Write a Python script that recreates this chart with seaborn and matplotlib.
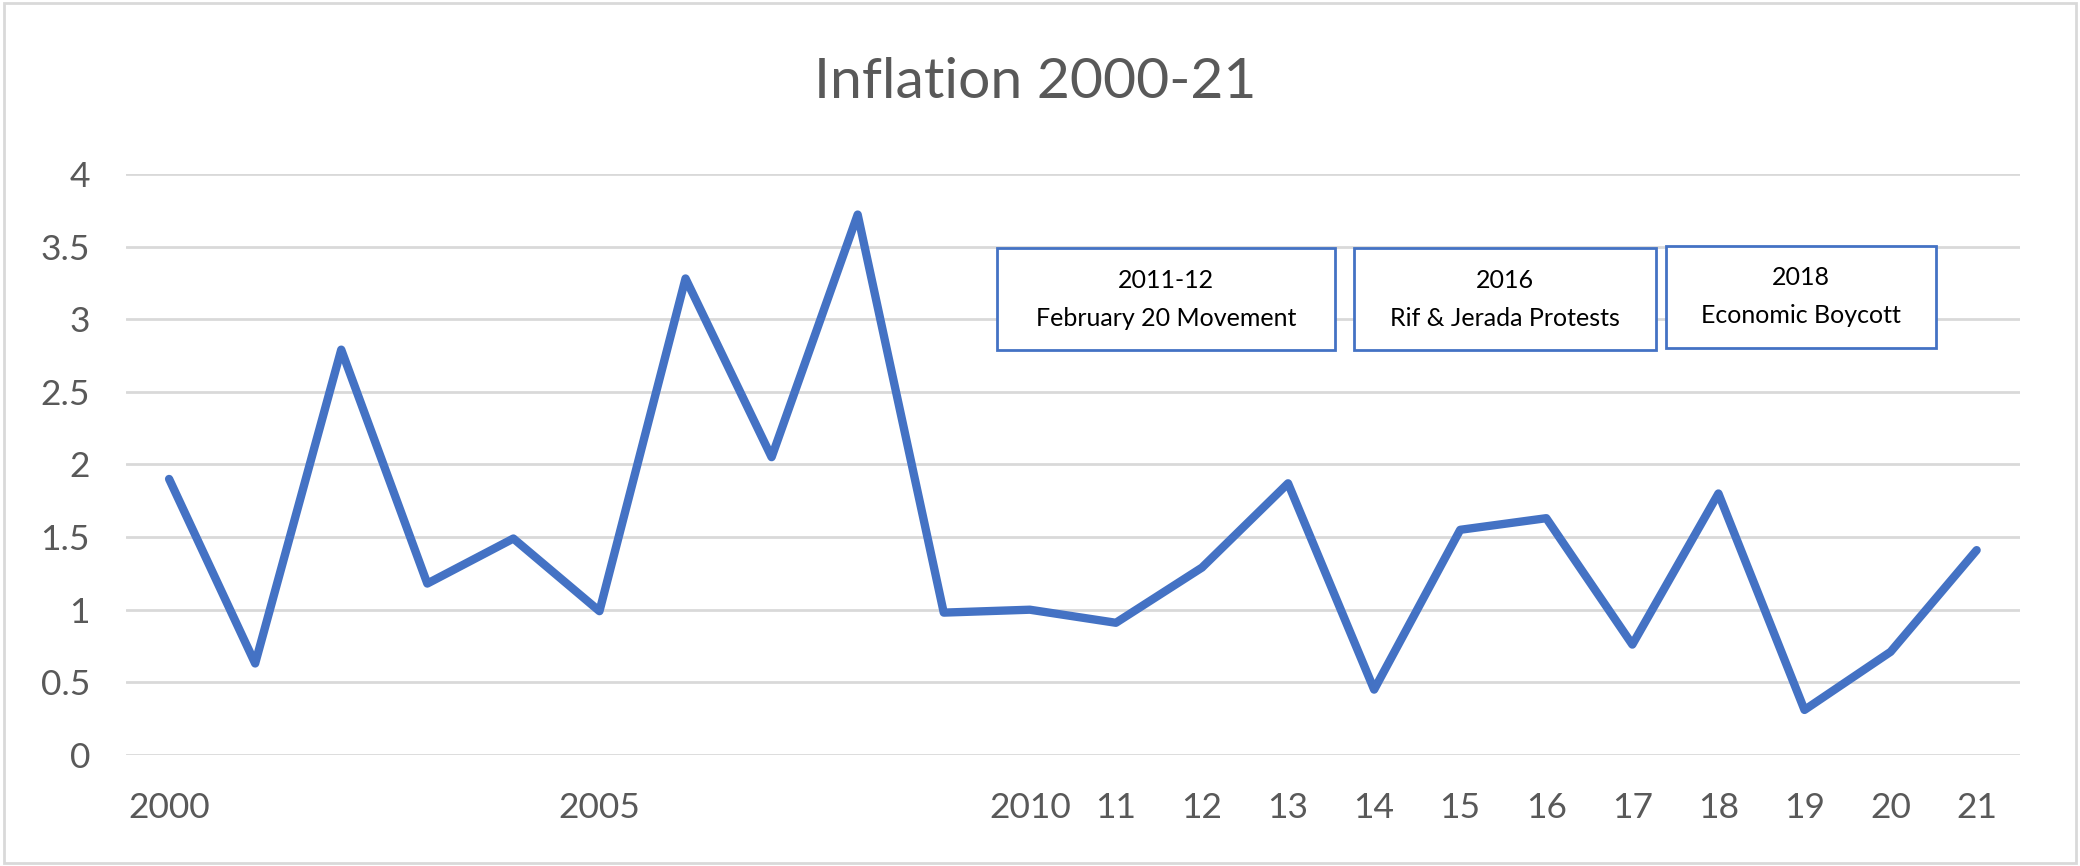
import matplotlib
matplotlib.use("Agg")
import matplotlib.pyplot as plt
import seaborn as sns
import pandas as pd
from matplotlib.patches import Rectangle

years = list(range(2000, 2022))
inflation = [1.90, 0.63, 2.79, 1.18, 1.49, 0.99, 3.28, 2.05, 3.72, 0.98, 1.00,
             0.91, 1.29, 1.87, 0.45, 1.55, 1.63, 0.76, 1.80, 0.31, 0.71, 1.41]
tick_labels = ["2000", "", "", "", "", "2005", "", "", "", "", "2010",
               "11", "12", "13", "14", "15", "16", "17", "18", "19", "20", "21"]
y_ticks = [0, 0.5, 1, 1.5, 2, 2.5, 3, 3.5, 4]
y_tick_labels = ["0", "0.5", "1", "1.5", "2", "2.5", "3", "3.5", "4"]
title = "Inflation 2000-21"
events = ["2011-12\nFebruary 20 Movement",
          "2016\nRif & Jerada Protests",
          "2018\nEconomic Boycott"]

sns.set_theme(style="white")
plt.rcParams['font.family'] = ['Lato', 'DejaVu Sans']

df = pd.DataFrame({"idx": range(len(years)), "inflation": inflation})

fig = plt.figure(figsize=(20.8, 8.66), dpi=100)
fig.patch.set_facecolor("white")
# outer chart border
fig.add_artist(Rectangle((0.002, 0.003), 0.996, 0.994, transform=fig.transFigure,
                         fill=False, edgecolor="#d9d9d9", linewidth=2))

ax = fig.add_axes([0.0606, 0.1282, 0.9104, 0.671])
line_color = "#4472C4"
sns.lineplot(data=df, x="idx", y="inflation", ax=ax, color=line_color,
             linewidth=6, solid_joinstyle="round", solid_capstyle="round")
for l in ax.lines:
    l.set_clip_on(False)

ax.set_xlim(-0.5, len(years) - 0.5)
ax.set_ylim(0, 4)
ax.set_xticks(range(len(years)))
ax.set_xticklabels(tick_labels)
ax.set_yticks(y_ticks)
ax.set_yticklabels(y_tick_labels)
ax.set_xlabel("")
ax.set_ylabel("")
ax.tick_params(axis="both", length=0, labelsize=25.5, labelcolor="#595959")
ax.tick_params(axis="x", pad=27)
ax.tick_params(axis="y", pad=26)
for s in ax.spines.values():
    s.set_visible(False)
ax.grid(axis="y", color="#d9d9d9", linewidth=2)
ax.set_axisbelow(True)

fig.text(0.4975, 0.905, title, ha="center", va="center", fontsize=41, color="#595959")

# annotation boxes (data coordinates: x in category index, y in value)
box_spans = [(9.62, 13.55, 2.785, 3.49), (13.77, 17.28, 2.785, 3.49), (17.39, 20.53, 2.80, 3.507)]
for txt, (x0, x1, y0, y1) in zip(events, box_spans):
    ax.add_patch(Rectangle((x0, y0), x1 - x0, y1 - y0, fill=True, facecolor="white",
                           edgecolor=line_color, linewidth=2, zorder=5))
    ax.text((x0 + x1) / 2, y1 - (y1 - y0) * 0.5, txt, ha="center", va="center",
            fontsize=18, color="black", linespacing=1.8, zorder=6)

fig.savefig("out.png", dpi=100)
